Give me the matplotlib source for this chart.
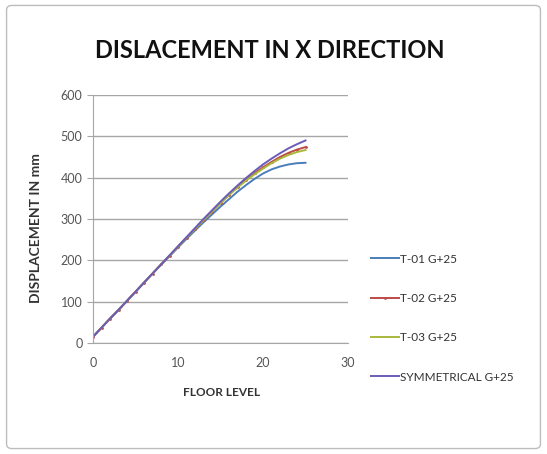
import matplotlib.pyplot as plt
from matplotlib.patches import FancyBboxPatch

floors = list(range(26))
t01 = [15, 37, 59, 80, 102, 124, 146, 168, 189, 210, 231, 252, 272, 292, 311, 330,
       348, 366, 382, 397, 410, 420, 427, 432, 435, 436]
t02 = [15, 37, 59, 80, 102, 124, 146, 168, 190, 211, 233, 255, 276, 297, 318, 339,
       359, 378, 395, 411, 425, 438, 450, 460, 468, 474]
t03 = [15, 37, 59, 80, 102, 124, 146, 168, 190, 211, 233, 255, 276, 297, 318, 338,
       358, 376, 393, 408, 422, 435, 446, 455, 462, 467]
sym = [15, 37, 59, 80, 102, 124, 146, 168, 190, 212, 234, 256, 278, 300, 321, 342,
       362, 381, 399, 416, 432, 446, 459, 471, 481, 490]
labels = ['T-01 G+25', 'T-02 G+25', 'T-03 G+25', 'SYMMETRICAL G+25']
colors = ['#4a7ebb', '#be4b48', '#a8b83a', '#6b5bb8']

plt.rcParams['font.family'] = ['Lato', 'DejaVu Sans']

fig = plt.figure(figsize=(5.47, 4.54), dpi=100)
fig.patches.append(FancyBboxPatch((0.012, 0.012), 0.976, 0.976,
                                  boxstyle='round,pad=0,rounding_size=0.01',
                                  transform=fig.transFigure, fill=False,
                                  edgecolor='#bdbdbd', linewidth=1))

ax = fig.add_axes([93 / 547, 1 - 343 / 454, 255 / 547, 248 / 454])
for y, lab, c in zip([t01, t02, t03, sym], labels, colors):
    kw = dict(marker='.', markersize=2) if lab.startswith('T-02') else {}
    ax.plot(floors, y, color=c, linewidth=1.4, label=lab, **kw)

ax.set_xlim(0, 30)
ax.set_ylim(0, 600)
ax.set_xticks([0, 10, 20, 30])
ax.set_yticks(range(0, 601, 100))
ax.yaxis.grid(True, color='#a6a6a6', linewidth=1)
ax.set_axisbelow(True)
for s in ['top', 'right']:
    ax.spines[s].set_visible(False)
for s in ['left', 'bottom']:
    ax.spines[s].set_color('#a6a6a6')
ax.tick_params(axis='both', colors='#a6a6a6', labelcolor='#555555', labelsize=9, length=4)
ax.tick_params(axis='x', length=0, pad=10)

fig.text(270 / 547, 1 - 50 / 454, 'DISLACEMENT IN X DIRECTION', ha='center', va='center',
         fontsize=17, fontweight='bold', color='#111111')
fig.text(222 / 547, 1 - 392 / 454, 'FLOOR LEVEL', ha='center', va='center',
         fontsize=8.5, fontweight='bold', color='#333333')
fig.text(36 / 547, 1 - 228 / 454, 'DISPLACEMENT IN mm', ha='center', va='center',
         rotation=90, fontsize=10, fontweight='bold', color='#333333')

leg = ax.legend(loc='upper left', bbox_to_anchor=(360 / 547, 1 - 243 / 454),
                bbox_transform=fig.transFigure, frameon=False, labelspacing=2.4,
                handlelength=2.4, handletextpad=0.1,
                prop={'size': 8.5})
for t in leg.get_texts():
    t.set_color('#333333')

fig.savefig('out.png', dpi=100)
